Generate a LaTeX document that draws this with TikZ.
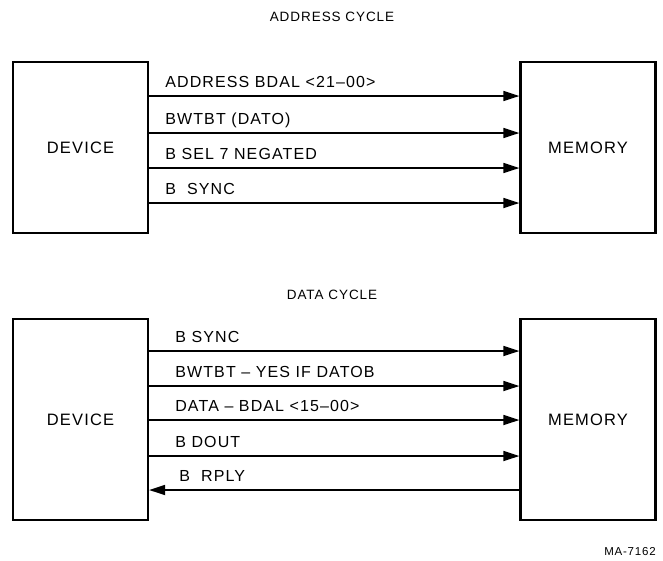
\documentclass[tikz,border=0pt]{standalone}
\usepackage{fontspec}
\setmainfont{Liberation Sans}[LetterSpace=7]
\usetikzlibrary{positioning,calc,arrows.meta}

\tikzset{
	unit/.style={draw, line width=2.2pt, minimum width=135pt, inner sep=0, font=\fontsize{16.5}{19}\selectfont},
	sig/.style={line width=1.7pt, -{Triangle[length=16pt,width=10pt]}},
	siglbl/.style={anchor=base west, inner sep=0, font=\fontsize{16}{19}\selectfont},
	heading/.style={inner sep=0, font=\fontsize{13.5}{16}\selectfont}
}

\begin{document}
\begin{tikzpicture}[x=1pt,y=-1pt]
	\useasboundingbox (0,0) rectangle (663,560);

	% address cycle
	\node[heading] (t1) at (332,17) {ADDRESS CYCLE};
	\node[unit, minimum height=171pt] (dev1) at (80.5,147.5) {DEVICE};
	\node[unit, minimum height=171pt] (mem1) at (588,147.5) {MEMORY};
	\foreach \y/\txt [count=\i] in {96/ADDRESS BDAL <21--00>, 133/BWTBT (DATO), 168/B SEL 7 NEGATED, 203/B~~SYNC} {
		\coordinate (a\i) at (dev1.east |- 0,\y);
		\draw[sig] (a\i) -- (mem1.west |- a\i);
		\node[siglbl] (la\i) at ($(a\i)+(16,-8.5)$) {\txt};
	}

	% data cycle
	\node[heading] (t2) at (332,295) {DATA CYCLE};
	\node[unit, minimum height=201pt] (dev2) at (80.5,419.5) {DEVICE};
	\node[unit, minimum height=201pt] (mem2) at (588,419.5) {MEMORY};
	\foreach \y/\txt [count=\i] in {351/B SYNC, 386/BWTBT -- YES IF DATOB, 420/DATA -- BDAL <15--00>, 456/B DOUT} {
		\coordinate (d\i) at (dev2.east |- 0,\y);
		\draw[sig] (d\i) -- (mem2.west |- d\i);
		\node[siglbl] (ld\i) at ($(d\i)+(26,-8.5)$) {\txt};
	}
	\coordinate (r1) at (mem2.west |- 0,490);
	\draw[sig] (r1) -- (dev2.east |- r1);
	\node[siglbl] (lr1) at ($(dev2.east |- r1)+(30,-8.5)$) {B~~RPLY};

	\node[inner sep=0, font=\fontsize{11.5}{13}\selectfont] (fig) at (630,552) {MA-7162};
\end{tikzpicture}
\end{document}
